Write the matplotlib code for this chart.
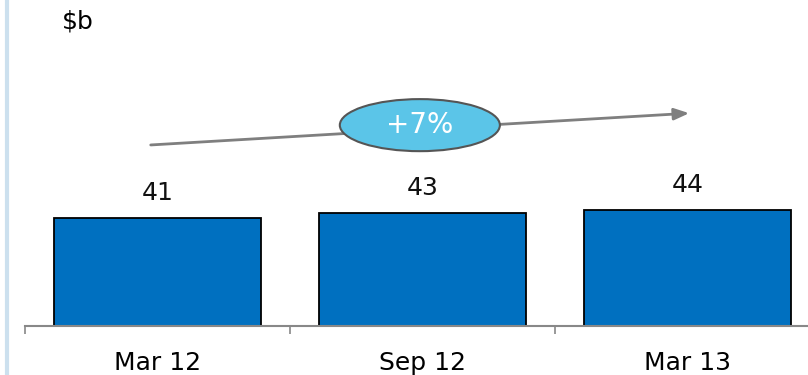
import numpy as np
import matplotlib.pyplot as plt
from matplotlib.patches import Ellipse

periods = ["Mar 12", "Sep 12", "Mar 13"]
values = [41, 43, 44]
growth_label = "+7%"
unit_label = "$b"

W, H = 808, 375
fig = plt.figure(figsize=(W / 100, H / 100), dpi=100)
plt.rcParams['font.family'] = ['DejaVu Sans']

# axes: x from 25px to 820px, baseline at y=326px
ax = fig.add_axes([25 / W, (H - 326) / H, 795 / W, 326 / H])
x = np.arange(len(periods))
ax.bar(x, values, width=0.78, color='#0070C0', edgecolor='black', linewidth=1.3, zorder=2)
for xi, v in zip(x, values):
    ax.text(xi, v + 5, str(v), ha='center', va='bottom', fontsize=18, color='#111111')

ax.set_xlim(-0.5, 2.5)
ax.set_ylim(0, 124)
for s in ['top', 'right', 'left']:
    ax.spines[s].set_visible(False)
ax.spines['bottom'].set_color('#888888')
ax.spines['bottom'].set_linewidth(1.5)
ax.set_yticks([])
ax.set_xticks([-0.5, 0.5, 1.5, 2.5])
ax.set_xticklabels([])
ax.tick_params(axis='x', which='major', direction='out', length=6, width=1.2, color='#888888')
ax.set_xticks(x, minor=True)
ax.set_xticklabels(periods, minor=True, fontsize=18)
ax.tick_params(axis='x', which='minor', length=0, pad=18)

# growth arrow with ellipse callout
ax.annotate('', xy=(2.017, 81), xytext=(-0.036, 68.8),
            arrowprops=dict(arrowstyle='-|>,head_length=0.9,head_width=0.35',
                            color='#7f7f7f', lw=2), zorder=3)
ell = Ellipse((0.99, 76.4), 0.604, 19.8, facecolor='#5BC5E8', edgecolor='#555555',
              linewidth=1.5, zorder=4)
ax.add_patch(ell)
ax.text(0.99, 76.4, growth_label, ha='center', va='center', fontsize=20,
        color='white', zorder=5)

fig.text(62 / W, 1 - 22 / H, unit_label, ha='left', va='center', fontsize=18)
fig.add_artist(plt.Line2D([7 / W, 7 / W], [0, 1], color='#CCE0EE', lw=3,
                          transform=fig.transFigure))

fig.savefig('out.png', dpi=100)
